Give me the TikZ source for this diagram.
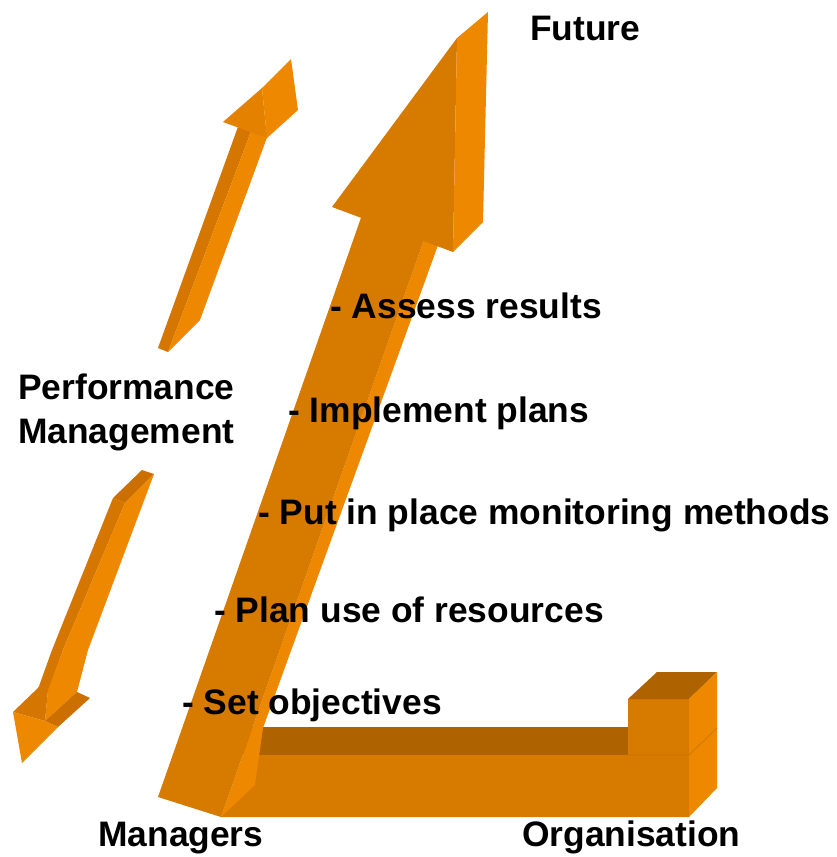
\documentclass[tikz,border=0pt]{standalone}
\usepackage{fontspec}
\setmainfont{Liberation Sans}
\definecolor{frontc}{RGB}{214,122,0}
\definecolor{sidec}{RGB}{238,136,0}
\definecolor{topc}{RGB}{174,98,0}
\definecolor{smallfront}{RGB}{228,130,0}
\definecolor{smalldark}{RGB}{212,118,0}
\definecolor{endc}{RGB}{202,111,0}
\definecolor{seamc}{RGB}{196,110,0}
\tikzset{
  lbl/.style={anchor=base west, inner sep=0pt, text=black,
    font=\fontsize{35.4}{42}\selectfont\bfseries},
  seam/.style={draw=seamc, line width=0.7pt, opacity=0.7}
}
\begin{document}
\begin{tikzpicture}[x=1pt,y=-1pt]
\useasboundingbox (0,0) rectangle (837,857);
\fill[white] (0,0) rectangle (837,857);

% ---- horizontal bar (Organisation) ----
\fill[topc] (250,727) -- (628,727) -- (628,755) -- (240,755) -- cycle;
\fill[frontc] (255,755) -- (689,755) -- (689,817) -- (221,817) -- cycle;
% box at the right end
\fill[frontc] (628,699) -- (689,699) -- (689,755) -- (628,755) -- cycle;
\fill[topc] (628,699) -- (657,672) -- (717,672) -- (689,699) -- cycle;
\fill[sidec] (689,699) -- (717,672) -- (717,788) -- (689,817) -- cycle;
\draw[seam] (628,755) -- (689,755) -- (717,728);

% ---- big arrow (Managers -> Future) ----
\fill[sidec] (426,234) -- (441,237) -- (263,728) -- (255,785) -- (221,817) -- cycle;
\fill[frontc] (363,212) -- (426,234) -- (221,817) -- (158,797) -- cycle;
\fill[frontc] (332,207) -- (457,38) -- (453,252) -- cycle;
\fill[sidec] (457,38) -- (488,12) -- (483,222) -- (453,252) -- cycle;

% ---- small arrow pointing up ----
\fill[smalldark] (239,124) -- (252,129) -- (168,352) -- (158,348) -- cycle;
\fill[sidec] (252,129) -- (269,132) -- (200,320) -- (168,352) -- cycle;
\fill[smallfront] (223,122) -- (262,88) -- (267,138) -- cycle;
\fill[sidec] (262,88) -- (291,59) -- (298,110) -- (267,138) -- cycle;

% ---- small arrow pointing down ----
\fill[endc] (113,498) -- (142,470) -- (154,474) -- (125,503) -- cycle;
\fill[smalldark] (113,498) -- (125,503) -- (63,650) -- (48,692) -- (38,689) -- (52,650) -- cycle;
\fill[sidec] (125,503) -- (154,474) -- (88,650) -- (77,692) -- (45,721) -- (48,690) -- (63,650) -- cycle;
\fill[smalldark] (40,686) -- (13,712) -- (45,721) -- (48,690) -- cycle;
\fill[endc] (77,692) -- (90,698) -- (58,727) -- (45,721) -- cycle;
\fill[sidec] (13,712) -- (45,721) -- (58,727) -- (22,763) -- cycle;

% ---- texts ----
\node[lbl] (future) at (530,40) {Future};
\node[lbl] (perf1) at (18,399) {Performance};
\node[lbl] (perf2) at (18,443) {Management};
\node[lbl] (assess) at (330,318) {- Assess results};
\node[lbl] (implement) at (288,422) {- Implement plans};
\node[lbl] (put) at (258,524) {- Put in place monitoring methods};
\node[lbl] (plan) at (214,622) {- Plan use of resources};
\node[lbl] (setobj) at (182,714) {- Set objectives};
\node[lbl] (managers) at (98,846) {Managers};
\node[lbl] (organisation) at (522,846) {Organisation};
\end{tikzpicture}
\end{document}
